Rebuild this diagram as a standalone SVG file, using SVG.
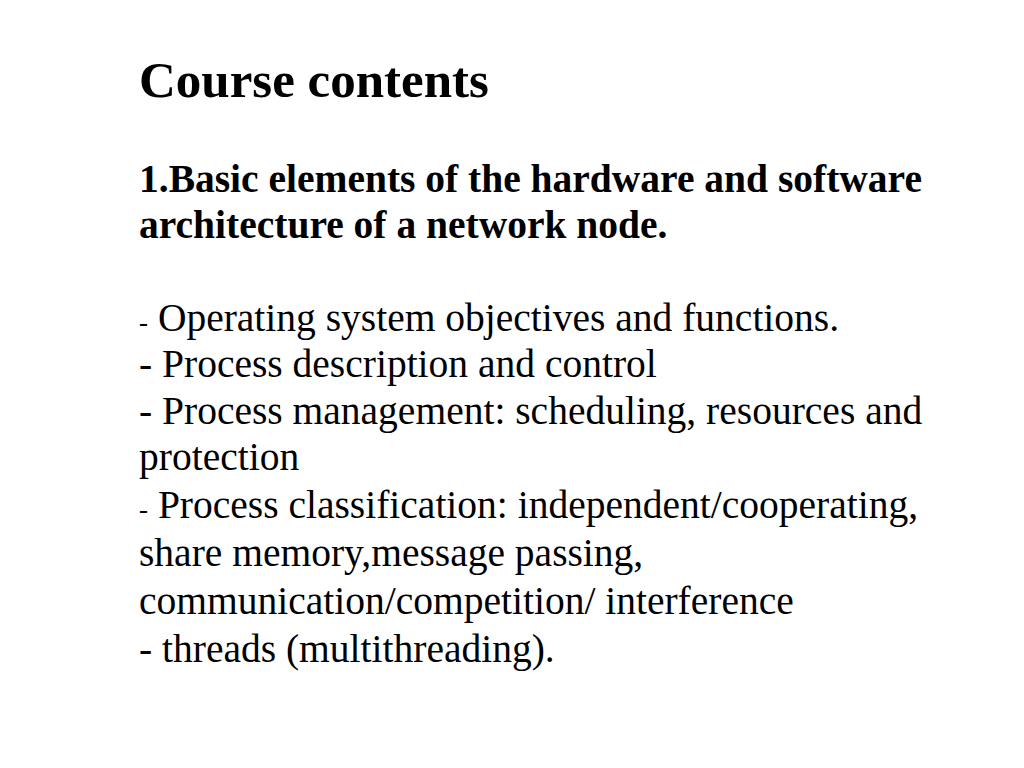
<svg xmlns="http://www.w3.org/2000/svg" width="1024" height="768" viewBox="0 0 1024 768">
<style>
text{font-family:"Liberation Serif","Times New Roman",serif;fill:#000}
.t{font-size:51px;font-weight:bold}
.h{font-size:39.5px;font-weight:bold}
.b{font-size:39.5px}
.s{font-size:27px}
</style>
<rect width="1024" height="768" fill="#fff"/>
<text class="t" x="139" y="97">Course contents</text>
<text class="h" x="139" y="192">1.Basic elements of the hardware and software</text>
<text class="h" x="139" y="238">architecture of a network node.</text>
<text class="b" x="139" y="331"><tspan class="s">-</tspan> Operating system objectives and functions.</text>
<text class="b" x="139" y="377">- Process description and control</text>
<text class="b" x="139" y="424">- Process management: scheduling, resources and</text>
<text class="b" x="139" y="470">protection</text>
<text class="b" x="139" y="518"><tspan class="s">-</tspan> Process classification: independent/cooperating,</text>
<text class="b" x="139" y="566">share memory,message passing,</text>
<text class="b" x="139" y="614">communication/competition/ interference</text>
<text class="b" x="139" y="662">- threads (multithreading).</text>
</svg>
